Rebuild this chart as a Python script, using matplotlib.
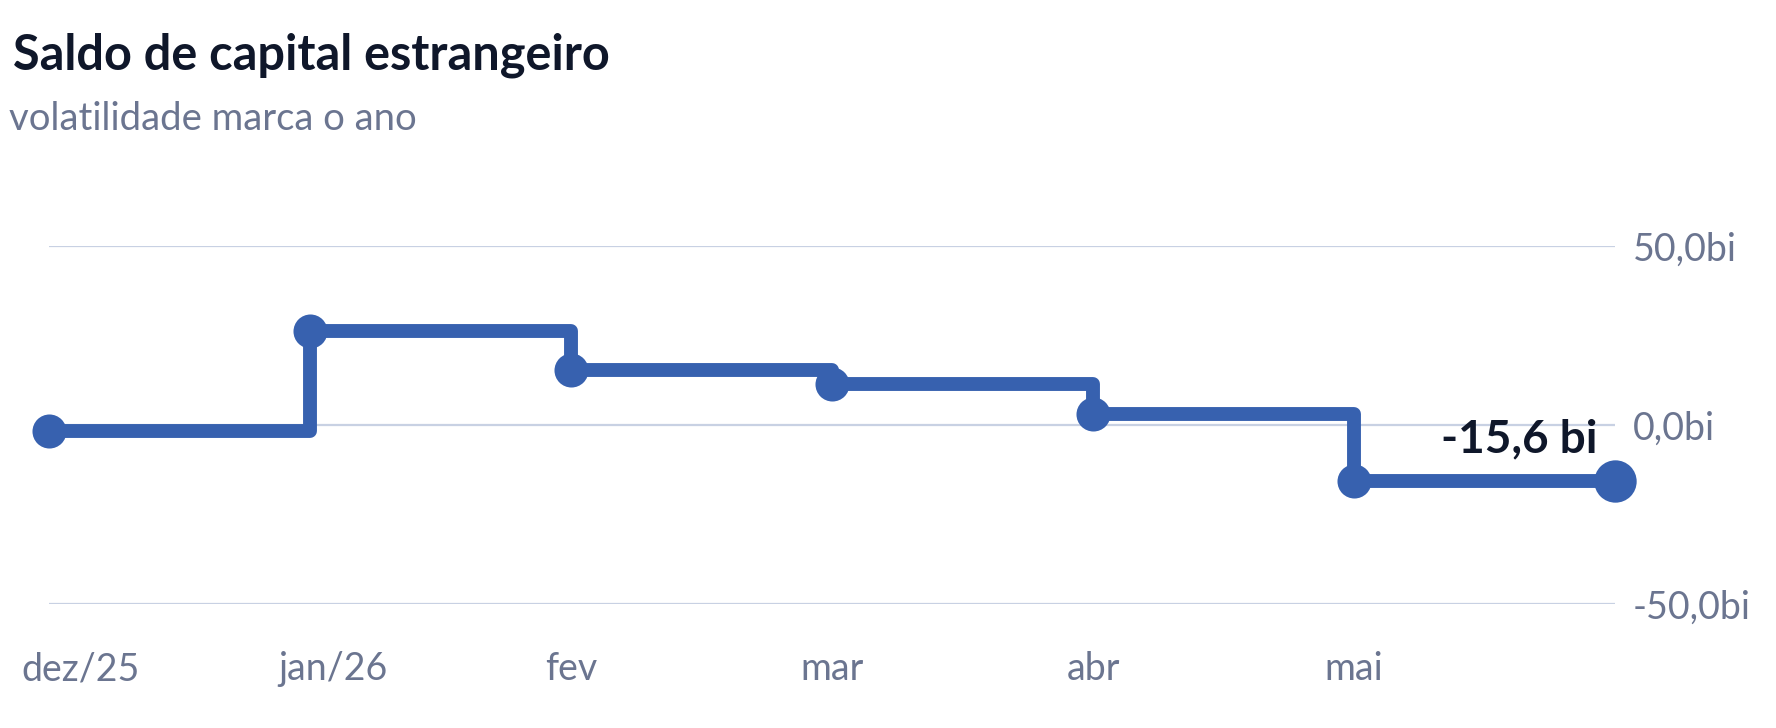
import matplotlib
matplotlib.use("Agg")
import matplotlib.pyplot as plt
import matplotlib.transforms as mtransforms

# data (bilhões)
months = ["dez/25", "jan/26", "fev", "mar", "abr", "mai", ""]
saldo = [-1.7, 26.3, 15.4, 11.5, 3.1, -15.6, -15.6]
y_ticks = [-50, 0, 50]
y_tick_labels = ["-50,0bi", "0,0bi", "50,0bi"]
last_label = "-15,6 bi"

blue = "#3761AF"
grid_col = "#C8D1E3"
gray = "#6B7590"
dark = "#0F172A"
font = "Lato"

W, H = 1776, 728
fig = plt.figure(figsize=(W / 100, H / 100), dpi=100)
fig.patch.set_facecolor("white")

# axes placed so gridlines sit where the reference has them
left, right = 49, 1615
top, bottom = 246, 604
ax = fig.add_axes([left / W, 1 - bottom / H, (right - left) / W, (bottom - top) / H])

x = list(range(len(saldo)))
ax.plot(x, saldo, drawstyle="steps-post", color=blue, lw=10,
        solid_joinstyle="round", solid_capstyle="round", zorder=3, clip_on=False)
ax.plot(x[:-1], saldo[:-1], "o", color=blue, ms=24.5, mew=0, zorder=4, clip_on=False)
ax.plot(x[-1], saldo[-1], "o", color=blue, ms=30.5, mew=0, zorder=4, clip_on=False)

ax.annotate(last_label, (x[-1], saldo[-1]), xytext=(-12.5, 20.5),
            textcoords="offset points", ha="right", va="baseline",
            fontsize=33, fontweight="bold", color=dark, family=font, zorder=5)

ax.set_xlim(0, len(saldo) - 1)
ax.set_ylim(-50, 50)
for s in ax.spines.values():
    s.set_visible(False)

ax.set_yticks(y_ticks)
ax.set_yticklabels(y_tick_labels)
ax.yaxis.tick_right()
ax.tick_params(axis="y", length=0, pad=13, labelsize=27, labelcolor=gray)
for lab in ax.get_yticklabels():
    lab.set_family(font)
ax.grid(axis="y", color=grid_col, lw=1.6, zorder=1)
ax.set_xticks([])

# month labels under the plot
shifts = [32, 23, 0, 0, 0, 0, 0]
for i, m in enumerate(months):
    tr = mtransforms.offset_copy(ax.get_xaxis_transform(), fig=fig, x=shifts[i], y=0, units="dots")
    ax.text(i, -76 / (bottom - top), m, transform=tr, ha="center", va="baseline",
            fontsize=27, color=gray, family=font)

fig.text(13 / W, 1 - 70 / H, "Saldo de capital estrangeiro", ha="left", va="baseline",
         fontsize=35, fontweight="bold", color=dark, family=font)
fig.text(9 / W, 1 - 130 / H, "volatilidade marca o ano", ha="left", va="baseline",
         fontsize=27.5, color=gray, family=font)

fig.savefig("out.png", dpi=100)
